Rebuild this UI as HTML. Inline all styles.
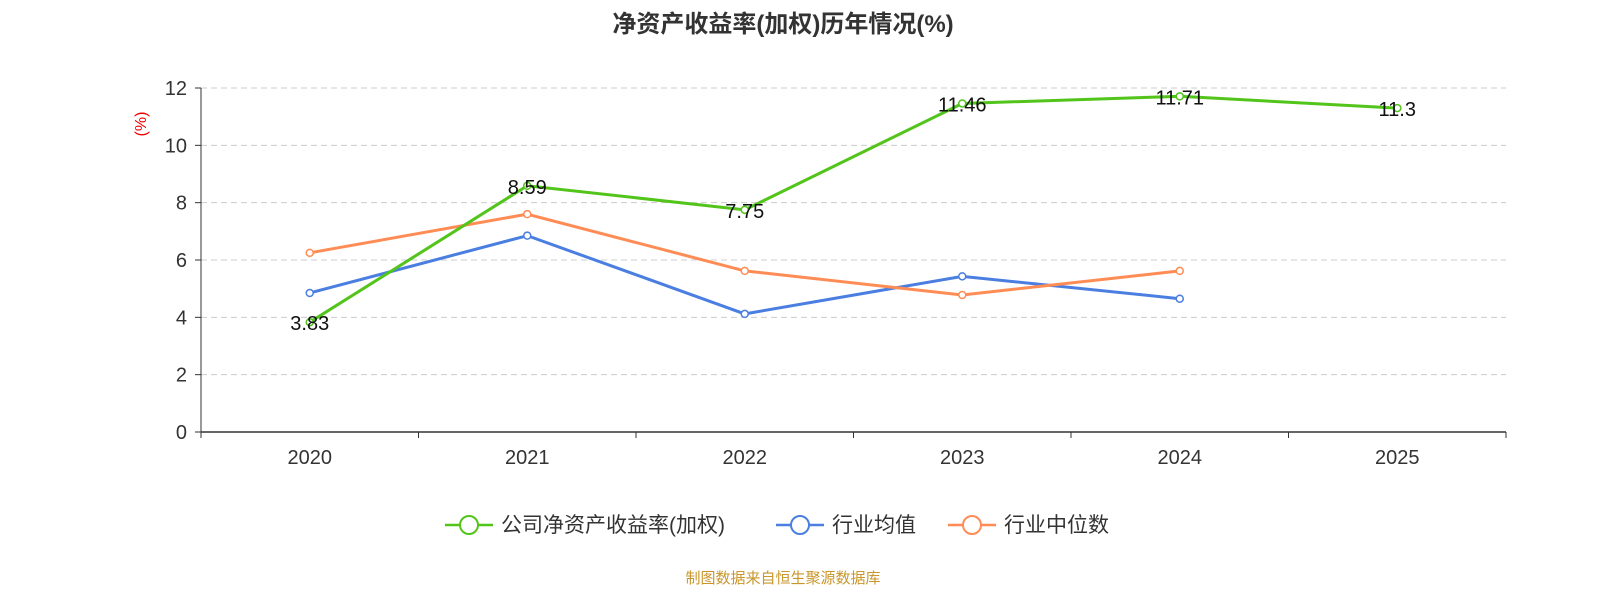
<!DOCTYPE html>
<html><head><meta charset="utf-8"><style>
body{margin:0;background:#fff;width:1600px;height:600px;overflow:hidden;font-family:"Liberation Sans","Noto Sans CJK SC",sans-serif}
</style></head><body>
<svg id="c" width="1600" height="600" xmlns="http://www.w3.org/2000/svg">
<text x="783" y="32" text-anchor="middle" font-size="24" font-weight="bold" fill="#333">净资产收益率(加权)历年情况(%)</text>
<text x="146" y="124" text-anchor="middle" font-size="16" fill="#e00" transform="rotate(-90 146 124)">(%)</text>
<g id="grid"></g><g id="axes"></g><g id="series"></g>
<g id="legend"></g>
<text x="783" y="583" text-anchor="middle" font-size="15" fill="#c8962a">制图数据来自恒生聚源数据库</text>
</svg>
<script>
const categories=["2020","2021","2022","2023","2024","2025"];
const company=[3.83,8.59,7.75,11.46,11.71,11.3];
const industryAvg=[4.85,6.85,4.12,5.43,4.65];
const industryMedian=[6.25,7.6,5.62,4.78,5.62];
const yTicks=[0,2,4,6,8,10,12];
const NS="http://www.w3.org/2000/svg";
const x0=201,x1=1506,y0=432,y1=88,ymax=12;
const bw=(x1-x0)/categories.length;
const X=i=>x0+bw*(i+0.5);
const Y=v=>y0-(v/ymax)*(y0-y1);
function mk(tag,attrs,parent){const e=document.createElementNS(NS,tag);for(const k in attrs)e.setAttribute(k,attrs[k]);document.getElementById(parent).appendChild(e);return e;}
yTicks.forEach(t=>{
 if(t>0){const g=mk('line',{x1:x0,x2:x1,y1:Y(t),y2:Y(t),stroke:'#ccc','stroke-dasharray':'6,4'},'grid');
 
 }
 const tk=mk('line',{x1:x0-6,x2:x0,y1:Y(t),y2:Y(t),stroke:'#333'},'axes');
 
 
 const l=mk('text',{x:x0-14,y:Y(t)+7,'text-anchor':'end','font-size':20,fill:'#333'},'axes');l.textContent=t;
 
 
});
const ya=mk('line',{x1:x0,x2:x0,y1:y1,y2:y0,stroke:'#333'},'axes');


const xa=mk('line',{x1:x0,x2:x1,y1:y0,y2:y0,stroke:'#333','stroke-width':1.5},'axes');


for(let i=0;i<=categories.length;i++){const t=mk('line',{x1:x0+bw*i,x2:x0+bw*i,y1:y0,y2:y0+6,stroke:'#333'},'axes');
 
 }
categories.forEach((c,i)=>{const l=mk('text',{x:X(i),y:464,'text-anchor':'middle','font-size':20,fill:'#333'},'axes');l.textContent=c;
 
 });
function series(vals,color,name,labels){
 const p=mk('polyline',{points:vals.map((v,i)=>X(i)+','+Y(v)).join(' '),fill:'none',stroke:color,'stroke-width':3},'series');
 
 
 vals.forEach((v,i)=>{const c=mk('circle',{cx:X(i),cy:Y(v),r:3.5,fill:'#fff',stroke:color,'stroke-width':1.5},'series');
  
  
  if(labels){const t=mk('text',{x:X(i),y:Y(v)+8,'text-anchor':'middle','font-size':20,fill:'#111'},'series');t.textContent=v;
   
   }
 });
}
series(industryAvg,'#4a7ee0','industry-avg',false);
series(industryMedian,'#ff8c55','industry-median',false);
series(company,'#52c41a','company-roe',true);
const leg=[['公司净资产收益率(加权)','#52c41a',445,'legend-company'],['行业均值','#4a7ee0',776,'legend-industry-avg'],['行业中位数','#ff8c55',948,'legend-industry-median']];
leg.forEach(([t,c,x,n])=>{
 const l=mk('line',{x1:x,x2:x+48,y1:525,y2:525,stroke:c,'stroke-width':2.5},'legend');
 
 
 const ci=mk('circle',{cx:x+24,cy:525,r:9,fill:'#fff',stroke:c,'stroke-width':2},'legend');
 
 
 const tx=mk('text',{x:x+56,y:532,'font-size':21,fill:'#333'},'legend');tx.textContent=t;
 
 
});
</script>
</body></html>
